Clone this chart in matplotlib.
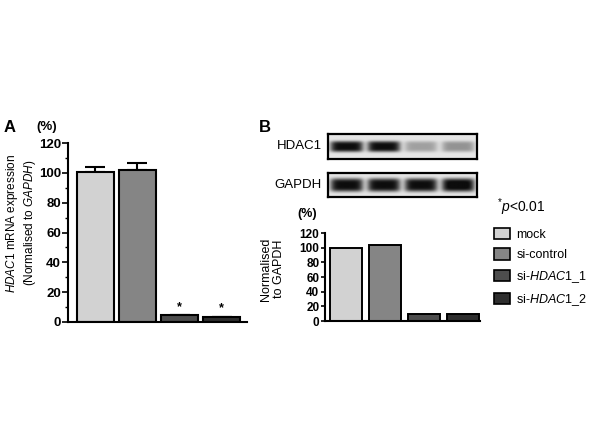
import matplotlib
matplotlib.use("Agg")
import matplotlib.pyplot as plt
import numpy as np
from matplotlib.patches import Patch

plt.rcParams['font.family'] = ['Liberation Sans', 'DejaVu Sans']
plt.rcParams['mathtext.fontset'] = 'custom'
plt.rcParams['mathtext.rm'] = 'Liberation Sans'
plt.rcParams['mathtext.it'] = 'Liberation Sans:italic'
plt.rcParams['mathtext.bf'] = 'Liberation Sans:bold'

# data
groups = ["mock", "si-control", r"si-$\mathit{HDAC1\_1}$", r"si-$\mathit{HDAC1\_2}$"]
colors = ["#d2d2d2", "#858585", "#4d4d4d", "#2e2e2e"]
mrna = [100.5, 102, 4.5, 3.5]
mrna_err = [3.5, 4.5, 0, 0]
signif = [False, False, True, True]
protein = [100, 103, 9, 9]
# relative band intensities on the blot
hdac1_band = [1.0, 1.0, 0.32, 0.38]
gapdh_band = [1.0, 1.0, 1.0, 1.05]
yticks = [0, 20, 40, 60, 80, 100, 120]

fig = plt.figure(figsize=(6, 4.47), dpi=100)


def style_axis(ax, size, length):
    ax.spines['top'].set_visible(False)
    ax.spines['right'].set_visible(False)
    ax.spines['left'].set_linewidth(1.5)
    ax.spines['bottom'].set_linewidth(1.5)
    ax.set_xticks([])
    ax.set_ylim(0, 120)
    ax.set_yticks(yticks)
    ax.tick_params(axis='y', direction='out', length=length, width=1.2, pad=1)
    for t in ax.get_yticklabels():
        t.set_fontsize(size)
        t.set_fontweight('bold')


# Panel A
axA = fig.add_axes([68 / 600, 1 - 322 / 447, 179 / 600, 179 / 447])
x = np.arange(len(mrna))
axA.bar(x, mrna, width=0.88, color=colors, edgecolor='black', linewidth=1.5, zorder=2)
axA.errorbar(x, mrna, yerr=[np.zeros(len(mrna)), mrna_err], fmt='none', ecolor='black',
             elinewidth=1.5, capsize=7, capthick=1.5, zorder=1)
for xi, v, s in zip(x, mrna, signif):
    if s:
        axA.text(xi, v + 5.5, '*', ha='center', va='center', fontsize=9, fontweight='bold')
axA.set_xlim(-0.65, 3.6)
style_axis(axA, 9.5, 4)
axA.set_yticks(np.arange(10, 120, 20), minor=True)
axA.tick_params(axis='y', which='minor', length=2.5, width=1)

fig.text(10 / 600, 1 - 127 / 447, "A", fontsize=12, fontweight='bold', ha='center', va='center')
fig.text(47 / 600, 1 - 127 / 447, "(%)", fontsize=9.5, fontweight='bold', ha='center', va='center')
fig.text(21 / 600, 1 - 223 / 447,
         "$\\mathit{HDAC1}$ mRNA expression\n(Normalised to $\\mathit{GAPDH}$)",
         rotation=90, ha='center', va='center', fontsize=8.5, multialignment='center',
         linespacing=1.15)

# Panel B blot
def blot(bottom, height, bands, thick):
    ax = fig.add_axes([328 / 600, bottom, 149 / 600, height])
    xs = np.linspace(0, 1, 300)
    ys = np.linspace(0, 1, 60)
    X, Y = np.meshgrid(xs, ys)
    dark = np.zeros_like(X)
    for i, b in enumerate(bands):
        c = (i + 0.5) / len(bands)
        dark += b * np.exp(-((X - c) / 0.11) ** 6) * np.exp(-((Y - 0.5) / thick) ** 4)
    img = 0.9 - 0.85 * np.clip(dark, 0, 1)
    ax.imshow(img, cmap='gray', vmin=0, vmax=1, aspect='auto', extent=(0, 1, 0, 1))
    ax.set_xticks([])
    ax.set_yticks([])
    for sp in ax.spines.values():
        sp.set_linewidth(1.6)
    return ax


blot(1 - 159 / 447, 25 / 447, hdac1_band, 0.22)
blot(1 - 197 / 447, 24 / 447, gapdh_band, 0.28)
fig.text(322 / 600, 1 - 146 / 447, "HDAC1", fontsize=9.5, ha='right', va='center')
fig.text(322 / 600, 1 - 185 / 447, "GAPDH", fontsize=9.5, ha='right', va='center')
fig.text(265 / 600, 1 - 128 / 447, "B", fontsize=12, fontweight='bold', ha='center', va='center')

# Panel B bars
axB = fig.add_axes([325 / 600, 1 - 321 / 447, 155 / 600, 88 / 447])
axB.bar(x, protein, width=0.82, color=colors, edgecolor='black', linewidth=1.4)
axB.set_xlim(-0.54, 3.44)
style_axis(axB, 8.5, 3)
fig.text(307 / 600, 1 - 214 / 447, "(%)", fontsize=9, fontweight='bold', ha='center', va='center')
fig.text(272.5 / 600, 1 - 269 / 447, "Normalised\nto GAPDH", rotation=90, ha='center',
         va='center', fontsize=9, multialignment='center', linespacing=1.0)

# legend
fig.text(497 / 600, 1 - 207 / 447, "$^{*}\\mathit{p}$<0.01", fontsize=10, ha='left', va='center')
handles = [Patch(facecolor=c, edgecolor='black', linewidth=1.2) for c in colors]
fig.legend(handles, groups, loc='upper left', bbox_to_anchor=(494 / 600, 1 - 228 / 447),
           frameon=False, fontsize=9, handlelength=1.3, handleheight=1.0,
           handletextpad=0.5, labelspacing=0.6, borderpad=0, borderaxespad=0)

fig.savefig("out.png", dpi=100)
